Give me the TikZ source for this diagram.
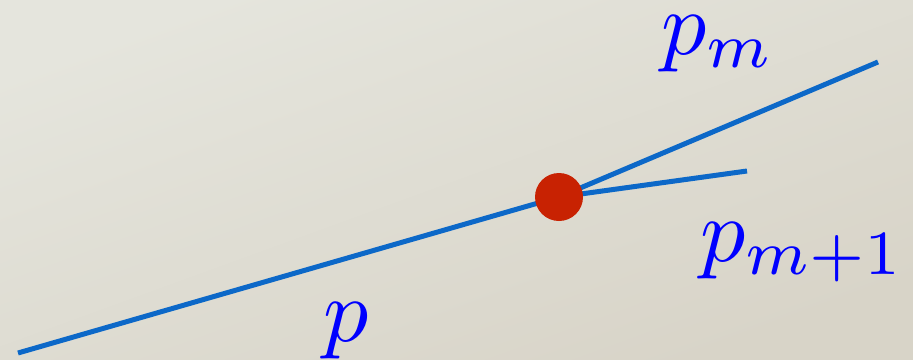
\documentclass[tikz,border=0pt]{standalone}
\usepackage{graphicx}
\definecolor{bgtop}{RGB}{229,229,221}
\definecolor{bgbot}{RGB}{216,212,200}
\definecolor{linecol}{RGB}{12,104,200}
\definecolor{dotcol}{RGB}{200,34,2}
\definecolor{labcol}{RGB}{0,0,255}
\newcommand{\biglab}[1]{\scalebox{9}{$#1$}}
\begin{document}
\begin{tikzpicture}[x=1pt,y=-1pt,
  seg/.style={draw=linecol,line width=5pt},
  lab/.style={text=labcol,inner sep=0pt,anchor=base west}]
\shade[top color=bgtop,bottom color=bgbot,shading angle=20] (0,0) rectangle (913,359);
\useasboundingbox (0,0) rectangle (913,359);
\coordinate (a) at (18,353);
\coordinate (b) at (878,62);
\coordinate (c) at (747,171);
\coordinate (o) at (559,197);
\draw[seg] (a) -- (o);
\draw[seg] (o) -- (b);
\draw[seg] (o) -- (c);
\fill[dotcol] (o) circle (24);
\node[lab] (pm) at (661,54) {\biglab{p_m}};
\node[lab] (pm1) at (700,261) {\biglab{p_{m+1}}};
\node[lab] (p) at (323,341) {\biglab{p}};
\end{tikzpicture}
\end{document}
